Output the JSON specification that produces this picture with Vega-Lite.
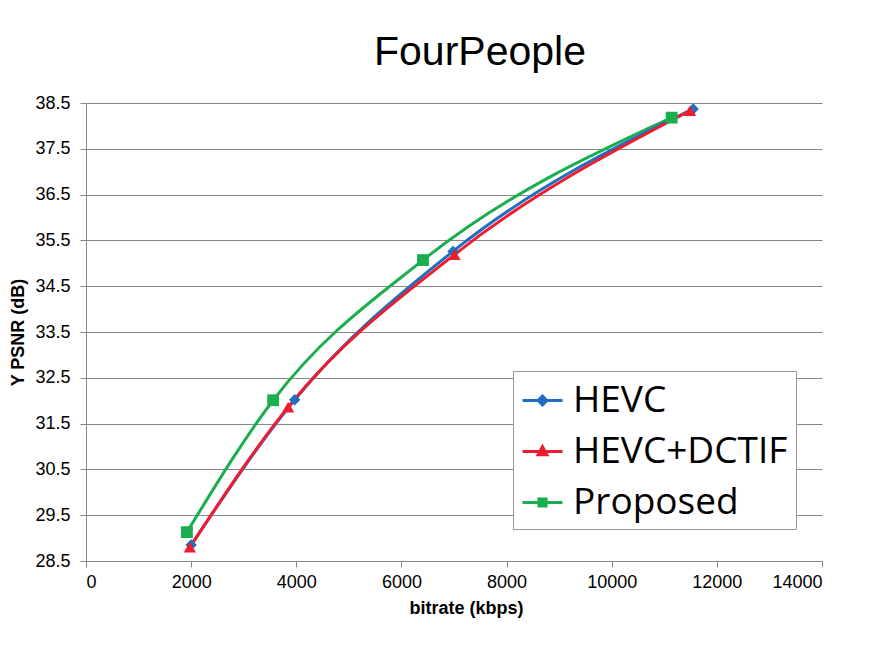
{
  "$schema": "https://vega.github.io/schema/vega-lite/v6.json",
  "autosize": "none",
  "width": 736,
  "height": 458,
  "padding": {"left": 86, "top": 103, "right": 56, "bottom": 85},
  "background": "white",
  "title": {"text": "FourPeople", "font": "Liberation Sans", "fontSize": 41, "fontWeight": "normal", "color": "#000", "offset": 20, "dx": 26},
  "config": {
    "view": {"stroke": null},
    "axis": {"labelFont": "Liberation Sans", "labelFontSize": 18, "labelColor": "#000", "titleFont": "Liberation Sans", "titleFontSize": 18, "titleFontWeight": "bold", "titleColor": "#000", "domainColor": "#888", "tickColor": "#888", "gridColor": "#888", "gridOpacity": 1, "tickSize": 6}
  },
  "data": {"values": [
    {"series": "Proposed", "bitrate": 1920, "psnr": 29.13},
    {"series": "Proposed", "bitrate": 3560, "psnr": 32.01},
    {"series": "Proposed", "bitrate": 6410, "psnr": 35.07},
    {"series": "Proposed", "bitrate": 11140, "psnr": 38.18},
    {"series": "HEVC", "bitrate": 2000, "psnr": 28.85},
    {"series": "HEVC", "bitrate": 3970, "psnr": 32.02},
    {"series": "HEVC", "bitrate": 6980, "psnr": 35.26},
    {"series": "HEVC", "bitrate": 11550, "psnr": 38.37},
    {"series": "HEVC+DCTIF", "bitrate": 1975, "psnr": 28.80},
    {"series": "HEVC+DCTIF", "bitrate": 3845, "psnr": 31.86},
    {"series": "HEVC+DCTIF", "bitrate": 7010, "psnr": 35.19},
    {"series": "HEVC+DCTIF", "bitrate": 11490, "psnr": 38.33}
  ]},
  "encoding": {
    "x": {"field": "bitrate", "type": "quantitative", "title": "bitrate (kbps)",
      "scale": {"domain": [0, 14000], "nice": false},
      "axis": {"values": [0, 2000, 4000, 6000, 8000, 10000, 12000, 14000], "format": "d", "grid": false, "labelPadding": 6, "titlePadding": 8, "titleX": 380}},
    "y": {"field": "psnr", "type": "quantitative", "title": "Y PSNR (dB)",
      "scale": {"domain": [28.5, 38.5], "nice": false, "zero": false},
      "axis": {"values": [28.5, 29.5, 30.5, 31.5, 32.5, 33.5, 34.5, 35.5, 36.5, 37.5, 38.5], "format": ".1f", "grid": true, "labelPadding": 10, "titlePadding": 7}},
    "color": {"field": "series", "type": "nominal",
      "scale": {"domain": ["HEVC", "HEVC+DCTIF", "Proposed"], "range": ["#1F6EC1", "#EE1C2E", "#1BAE4E"]},
      "legend": {
        "title": null, "orient": "none", "legendX": 427, "legendY": 268,
        "padding": 8, "strokeColor": "#999", "fillColor": "white",
        "labelFont": "Open Sans", "labelFontSize": 37, "labelColor": "#000", "labelOffset": 9, "labelLimit": 0,
        "symbolSize": 1600, "symbolStrokeWidth": 3, "rowPadding": 11,
        "encode": {"symbols": {"update": {
          "shape": {"signal": "datum.value == 'HEVC' ? 'M-1,0H1M0,-0.22L0.22,0L0,0.22L-0.22,0Z' : datum.value == 'HEVC+DCTIF' ? 'M-1,0H1M0,-0.24L0.22,0.16L-0.22,0.16Z' : 'M-1,0H1M-0.18,-0.18H0.18V0.18H-0.18Z'"},
          "fill": {"signal": "scale('color', datum.value)"},
          "stroke": {"signal": "scale('color', datum.value)"},
          "strokeWidth": {"value": 3},
          "opacity": {"value": 1}
        }}}
      }}
  },
  "layer": [
    {"mark": {"type": "line", "interpolate": "monotone", "strokeWidth": 3}},
    {"transform": [{"filter": "datum.series == 'Proposed'"}],
      "mark": {"type": "point", "filled": true, "opacity": 1, "shape": "square", "size": 140}},
    {"transform": [{"filter": "datum.series == 'HEVC'"}],
      "mark": {"type": "point", "filled": true, "opacity": 1, "shape": "diamond", "size": 130}},
    {"transform": [{"filter": "datum.series == 'HEVC+DCTIF'"}],
      "mark": {"type": "point", "filled": true, "opacity": 1, "shape": "triangle-up", "size": 150}}
  ]
}
